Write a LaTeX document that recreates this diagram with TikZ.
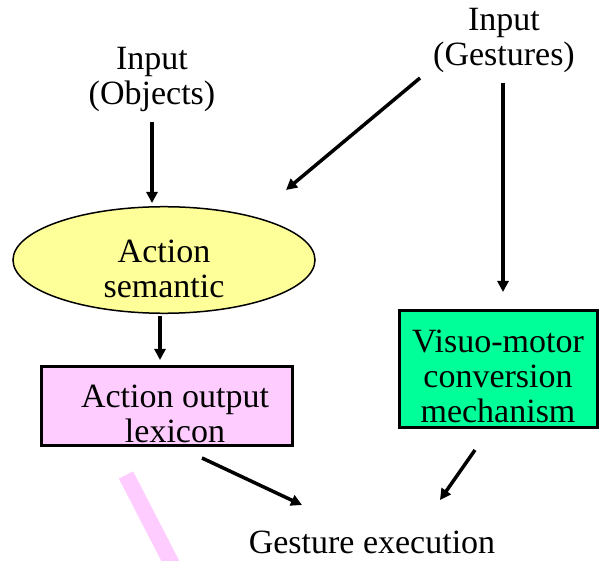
\documentclass[tikz,border=0pt]{standalone}
\usepackage{fontspec}
\setmainfont{Liberation Serif}
\usetikzlibrary{shapes.geometric,arrows.meta,positioning}
\definecolor{semfill}{RGB}{255,255,153}
\definecolor{lexfill}{RGB}{255,204,255}
\definecolor{motfill}{RGB}{0,255,153}

\begin{document}
\begin{tikzpicture}[x=1pt,y=-1pt,
    txt/.style={align=center,font=\fontsize{34}{35}\selectfont,inner sep=0pt},
    blob/.style={txt,shape=ellipse,draw=black,line width=1.5pt,fill=semfill,minimum width=302pt,minimum height=98pt},
    box/.style={txt,rectangle,draw=black,line width=3pt},
    link/.style={draw,line width=3.5pt,-{Triangle[length=11pt,width=11pt]}}
    ]
    \useasboundingbox (0,0) rectangle (600,561);

    % pink stroke at the bottom left
    \draw[lexfill,line width=16pt] (126,475) -- (175,570);

    % inputs
    \node[txt] (objin) at (152,79) {Input\\(Objects)};
    \node[txt] (gestin) at (504,40) {Input\\(Gestures)};

    % left branch
    \node[blob] (sem) at (164,260) {\rule{0pt}{40pt}Action\\semantic};
    \node[box,fill=lexfill,minimum width=251pt,minimum height=79pt] (lex) at (167,406)
        {\rule{0pt}{38pt}\hspace*{16pt}Action output\\\hspace*{16pt}lexicon};

    % right branch
    \node[box,fill=motfill,minimum width=198pt,minimum height=116pt] (vmc) at (498,369)
        {\rule{0pt}{37pt}Visuo-motor\\conversion\\mechanism};

    % output
    \node[txt] (exec) at (372,542) {Gesture execution};

    \path[every edge/.style={link}]
    ([yshift=-43pt]objin.center) edge ([xshift=-12pt,yshift=57pt]sem.center)
    ([xshift=-4pt,yshift=-56pt]sem.center) edge ([xshift=-7pt,yshift=46pt]lex.center)
    ([xshift=-1pt,yshift=-43pt]gestin.center) edge ([xshift=5pt,yshift=77pt]vmc.center)
    ([xshift=-84pt,yshift=-38pt]gestin.center) edge ([xshift=122pt,yshift=70pt]sem.center)
    ([xshift=35pt,yshift=-52pt]lex.center) edge ([xshift=-70pt,yshift=37pt]exec.center)
    ([xshift=-23pt,yshift=-81pt]vmc.center) edge ([xshift=68pt,yshift=42pt]exec.center)
    ;
\end{tikzpicture}
\end{document}
